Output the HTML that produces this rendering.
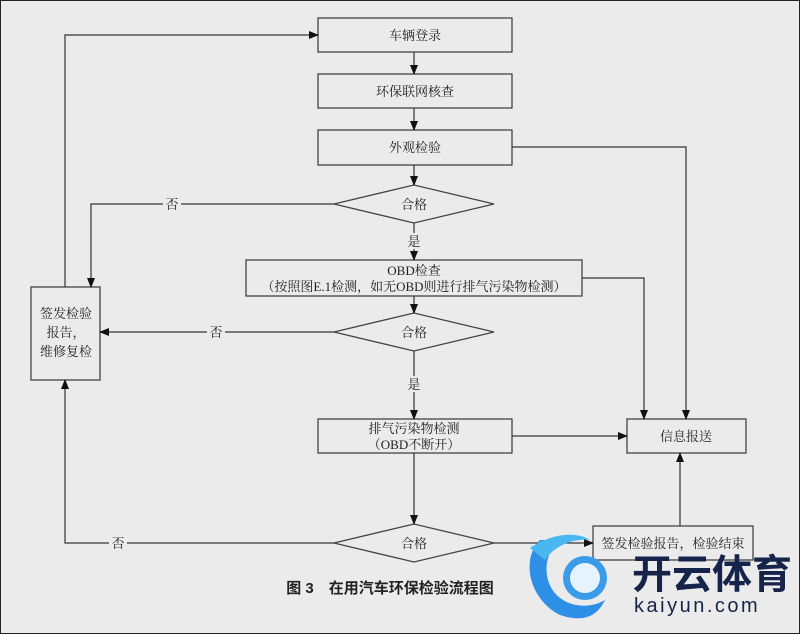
<!DOCTYPE html>
<html><head><meta charset="utf-8"><style>
html,body{margin:0;padding:0;background:#ebebeb;}
svg{display:block;}
text{font-family:"Liberation Serif","Noto Serif CJK SC",serif;font-size:13px;fill:#222;}
</style></head><body>
<svg width="800" height="634" viewBox="0 0 800 634" xmlns="http://www.w3.org/2000/svg">
<defs><marker id="a" markerWidth="10" markerHeight="10" refX="9" refY="5" orient="auto" markerUnits="userSpaceOnUse"><path d="M0,1 L10,5 L0,9 Z" fill="#111"/></marker></defs>
<rect x="0.5" y="0.5" width="799" height="633" fill="#ebebeb" stroke="#222"/>
<g fill="none" stroke="#444" stroke-width="1.3">
<rect x="318" y="18" width="194" height="34"/>
<rect x="318" y="74" width="194" height="34"/>
<rect x="318" y="130" width="194" height="35"/>
<polygon points="334,204 414,185 494,204 414,223"/>
<rect x="246" y="260" width="336" height="36"/>
<polygon points="334,332 414,313 494,332 414,351"/>
<rect x="318" y="419" width="194" height="34"/>
<polygon points="334,543 414,524 494,543 414,562"/>
<rect x="31" y="287" width="69" height="93"/>
<rect x="627" y="419" width="119" height="34"/>
<rect x="593" y="526" width="160" height="34"/>
</g>
<g fill="none" stroke="#333" stroke-width="1.2" marker-end="url(#a)">
<path d="M414 52V74"/><path d="M414 108V130"/><path d="M414 165V185"/>
<path d="M414 223V260"/><path d="M414 296V313"/><path d="M414 351V419"/>
<path d="M414 453V524"/>
<path d="M512 147H686V419"/><path d="M582 278H644V419"/>
<path d="M512 436H627"/><path d="M680 526V453"/><path d="M494 543H593"/>
<path d="M334 204H91V287"/><path d="M334 332H100"/>
<path d="M334 543H65V380"/><path d="M65 287V35H318"/>
</g>
<rect x="404" y="233" width="20" height="16" fill="#ebebeb"/>
<rect x="404" y="376" width="20" height="16" fill="#ebebeb"/>
<rect x="163" y="196" width="18" height="16" fill="#ebebeb"/>
<rect x="207" y="324" width="18" height="16" fill="#ebebeb"/>
<rect x="109" y="535" width="18" height="16" fill="#ebebeb"/>
<g text-anchor="middle">
<text x="415" y="40">车辆登录</text>
<text x="415" y="96">环保联网核查</text>
<text x="415" y="152">外观检验</text>
<text x="414" y="209">合格</text>
<text x="414" y="246">是</text>
<text x="414" y="275">OBD检查</text>
<text x="414" y="291">（按照图E.1检测，如无OBD则进行排气污染物检测）</text>
<text x="414" y="337">合格</text>
<text x="414" y="389">是</text>
<text x="414" y="433">排气污染物检测</text>
<text x="414" y="449">（OBD不断开）</text>
<text x="414" y="548">合格</text>
<text x="172" y="209">否</text>
<text x="216" y="337">否</text>
<text x="118" y="548">否</text>
<text x="66" y="318">签发检验</text>
<text x="66" y="337">报告，</text>
<text x="66" y="356">维修复检</text>
<text x="686" y="441">信息报送</text>
<text x="673" y="548">签发检验报告，检验结束</text>
<text x="390" y="593" style="font-family:'Liberation Sans','Noto Sans CJK SC',sans-serif;font-weight:bold;font-size:15px">图 3　在用汽车环保检验流程图</text>
</g>
<g>
<path d="M540 540 C520 560,530 600,560 615 C590 625,600 610,605 600 C585 612,555 605,548 580 C544 565,548 550,560 540 Z" fill="#2e8fe6"/>
<path d="M530 548 C548 535,575 530,590 540 C575 538,555 545,545 560 Z" fill="#4ab8f0"/>
<circle cx="585" cy="578" r="22" fill="#3a9be8"/>
<circle cx="585" cy="578" r="15" fill="#e6f2fc"/>
<text x="632" y="588" style="font-family:'Noto Sans CJK SC',sans-serif;font-weight:bold;font-size:40px;fill:#16234a">开云体育</text>
<text x="634" y="612" style="font-family:'Liberation Sans',sans-serif;font-size:20px;letter-spacing:2.5px;fill:#16234a">kaiyun.com</text>
</g>
</svg>
</body></html>
